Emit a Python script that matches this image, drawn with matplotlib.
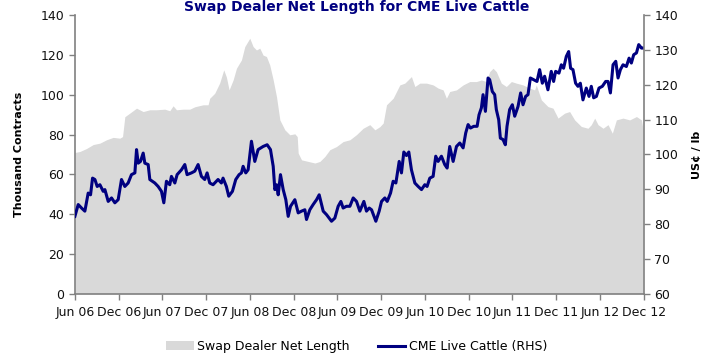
import numpy as np
import pandas as pd
import matplotlib
matplotlib.use("Agg")
import matplotlib.pyplot as plt
import matplotlib.dates as mdates
from matplotlib.patches import Patch
from matplotlib.lines import Line2D

# Swap dealer net length (thousand contracts), sampled dates as decimal years
swap_t = [2006.414, 2006.471, 2006.547, 2006.624, 2006.700, 2006.776, 2006.852, 2006.928,
          2006.959, 2006.985, 2007.042, 2007.119, 2007.195, 2007.271, 2007.347, 2007.442,
          2007.499, 2007.537, 2007.576, 2007.652, 2007.728, 2007.785, 2007.880, 2007.937,
          2007.956, 2008.013, 2008.070, 2008.116, 2008.146, 2008.177, 2008.223, 2008.261,
          2008.318, 2008.356, 2008.413, 2008.451, 2008.489, 2008.527, 2008.565, 2008.603,
          2008.641, 2008.680, 2008.718, 2008.756, 2008.813, 2008.870, 2008.927, 2008.954,
          2008.965, 2009.003, 2009.079, 2009.156, 2009.213, 2009.270, 2009.327, 2009.403,
          2009.479, 2009.556, 2009.632, 2009.708, 2009.784, 2009.842, 2009.899, 2009.937,
          2009.975, 2010.051, 2010.127, 2010.184, 2010.260, 2010.299, 2010.356, 2010.432,
          2010.508, 2010.565, 2010.622, 2010.660, 2010.698, 2010.775, 2010.851, 2010.927,
          2011.003, 2011.060, 2011.117, 2011.155, 2011.193, 2011.231, 2011.288, 2011.345,
          2011.403, 2011.460, 2011.536, 2011.612, 2011.669, 2011.688, 2011.745, 2011.821,
          2011.879, 2011.936, 2012.012, 2012.069, 2012.126, 2012.202, 2012.278, 2012.316,
          2012.355, 2012.393, 2012.450, 2012.507, 2012.556, 2012.602, 2012.678, 2012.754,
          2012.831, 2012.888, 2012.907]
swap_net = [71, 71.5, 73, 75, 75.7, 77.4, 78.6, 78.2,
            79, 89, 90.8, 93.3, 91.6, 92.5, 92.5, 92.8,
            92, 94.5, 92.5, 92.8, 92.8, 94, 95, 95,
            98.3, 100.8, 106, 112.6, 109, 102.5, 107.5, 113.4,
            117.6, 124.3, 128.5, 124.3, 122.6, 123.5, 120, 119.3,
            115, 107.5, 99, 87.4, 82.4, 79.9, 80.4, 79,
            70.7, 67.3, 66.5, 65.7, 66.5, 69, 72.4, 74,
            76.5, 77.4, 80, 83.2, 85, 82.4, 84, 85.8,
            95, 98.3, 105, 105.9, 109.2, 104.2, 105.9, 105.9,
            105, 103.4, 102.5, 98.3, 101.7, 102.5, 105, 106.7,
            106.7, 107.5, 106.7, 111.7, 113.4, 111.7, 105.9, 104.2,
            106.7, 105.9, 105, 103.4, 102.5, 105, 97.5, 94.1,
            93.3, 88.3, 90.8, 91.6, 87.4, 84.1, 83.2, 85,
            88.3, 85, 83.2, 85, 80.7, 87.4, 88.3, 87.4,
            89.1, 87.4, 82.4]

# CME live cattle price (US cents / lb)
cattle_t = [2006.414, 2006.452, 2006.490, 2006.528, 2006.566, 2006.593, 2006.616, 2006.643,
            2006.669, 2006.700, 2006.738, 2006.757, 2006.795, 2006.833, 2006.871, 2006.909,
            2006.947, 2006.985, 2007.023, 2007.061, 2007.100, 2007.119, 2007.138, 2007.164,
            2007.195, 2007.214, 2007.252, 2007.271, 2007.328, 2007.366, 2007.404, 2007.431,
            2007.461, 2007.499, 2007.518, 2007.557, 2007.583, 2007.633, 2007.671, 2007.697,
            2007.747, 2007.785, 2007.823, 2007.861, 2007.899, 2007.926, 2007.956, 2007.994,
            2008.051, 2008.089, 2008.108, 2008.146, 2008.173, 2008.215, 2008.253, 2008.291,
            2008.318, 2008.337, 2008.367, 2008.394, 2008.432, 2008.470, 2008.508, 2008.565,
            2008.611, 2008.649, 2008.680, 2008.699, 2008.718, 2008.737, 2008.763, 2008.794,
            2008.824, 2008.851, 2008.878, 2008.927, 2008.965, 2009.003, 2009.041, 2009.060,
            2009.098, 2009.136, 2009.175, 2009.205, 2009.251, 2009.289, 2009.346, 2009.384,
            2009.422, 2009.453, 2009.479, 2009.517, 2009.556, 2009.594, 2009.632, 2009.670,
            2009.716, 2009.746, 2009.777, 2009.804, 2009.853, 2009.891, 2009.918, 2009.956,
            2009.983, 2010.021, 2010.051, 2010.082, 2010.120, 2010.146, 2010.173, 2010.203,
            2010.230, 2010.260, 2010.299, 2010.337, 2010.375, 2010.413, 2010.439, 2010.470,
            2010.508, 2010.538, 2010.565, 2010.603, 2010.641, 2010.668, 2010.698, 2010.737,
            2010.775, 2010.813, 2010.851, 2010.881, 2010.908, 2010.935, 2010.973, 2011.011,
            2011.033, 2011.060, 2011.079, 2011.106, 2011.136, 2011.155, 2011.185, 2011.212,
            2011.231, 2011.258, 2011.277, 2011.307, 2011.334, 2011.353, 2011.383, 2011.414,
            2011.441, 2011.479, 2011.509, 2011.536, 2011.566, 2011.593, 2011.620, 2011.658,
            2011.696, 2011.726, 2011.757, 2011.783, 2011.821, 2011.859, 2011.886, 2011.909,
            2011.947, 2011.974, 2012.000, 2012.031, 2012.058, 2012.080, 2012.107, 2012.137,
            2012.164, 2012.191, 2012.221, 2012.259, 2012.290, 2012.316, 2012.343, 2012.374,
            2012.404, 2012.442, 2012.480, 2012.507, 2012.534, 2012.564, 2012.595, 2012.621,
            2012.648, 2012.678, 2012.716, 2012.747, 2012.773, 2012.800, 2012.831, 2012.857,
            2012.888, 2012.907]
cattle_px = [82.2, 85.6, 84.6, 83.7, 88.9, 88.4, 93.2, 92.8,
             90.8, 91.3, 89.4, 89.9, 86.5, 87.5, 86.1, 87,
             92.8, 90.8, 91.8, 94.2, 94.7, 101.4, 97.5, 98,
             100.4, 97.5, 97.1, 92.8, 91.8, 90.8, 89.4, 86.1,
             92.3, 91.3, 93.7, 91.8, 94.2, 95.6, 97.1, 94.2,
             94.7, 95.2, 97.1, 93.7, 92.8, 94.7, 91.8, 91.3,
             92.8, 91.8, 93.2, 90.8, 88, 89.4, 92.8, 94.2,
             94.7, 96.6, 94.7, 95.6, 103.8, 98, 101.4, 102.3,
             102.8, 101.4, 96.6, 89.9, 91.3, 88.4, 94.2, 89.9,
             87, 82.2, 85.1, 87, 83.2, 83.7, 84.1, 81.3,
             84.1, 85.6, 87, 88.4, 83.7, 82.7, 80.8, 81.7,
             85.1, 86.5, 84.6, 85.1, 85.1, 87.5, 86.5, 83.7,
             86.5, 83.7, 84.6, 84.1, 80.8, 83.7, 86.5, 87.5,
             86.5, 88.9, 92.3, 91.8, 98, 94.7, 100.7, 99.7,
             100.7, 95.6, 91.8, 90.8, 89.9, 91.3, 90.8, 93.2,
             93.7, 99.5, 98, 99.5, 97.1, 96.1, 102.3, 98,
             102.3, 103.3, 101.9, 106.2, 108.6, 107.6, 108.1, 108.1,
             111.4, 113.4, 117.2, 112.4, 122, 121.5, 118.1, 117.2,
             112.9, 110, 104.7, 104.3, 102.8, 108.1, 112.9, 114.3,
             111, 113.8, 117.7, 114.3, 116.7, 117.2, 122, 121.5,
             121, 124.4, 120.5, 122.5, 118.6, 123.9, 121, 123.9,
             123.4, 125.8, 124.8, 128.2, 129.6, 124.8, 124.4, 120.5,
             119.6, 120.5, 115.7, 119.1, 116.7, 119.6, 116.3, 116.7,
             119.1, 119.6, 121, 121, 117.7, 125.8, 126.8, 122,
             124.4, 125.8, 125.3, 127.7, 126.3, 128.7, 129.2, 131.6,
             130.6, 130.6]


def to_dates(years):
    out = []
    for y in years:
        yr = int(y)
        start = pd.Timestamp(yr, 1, 1)
        days = (pd.Timestamp(yr + 1, 1, 1) - start).days
        out.append(start + pd.Timedelta(days=(y - yr) * days))
    return pd.DatetimeIndex(out)


swap_dates = to_dates(swap_t)
cattle_dates = to_dates(cattle_t)

navy = "#000080"
grey_fill = "#d9d9d9"
axis_grey = "#808080"

fig = plt.figure(figsize=(7.13, 3.58), dpi=100)
ax = fig.add_axes([0.105, 0.180, 0.798, 0.777])
ax2 = ax.twinx()

ax.fill_between(swap_dates, swap_net, 0, color=grey_fill, linewidth=0)
ax2.plot(cattle_dates, cattle_px, color=navy, linewidth=2.2)

ax.set_xlim(pd.Timestamp(2006, 6, 1), pd.Timestamp(2012, 12, 1))
ax.set_ylim(0, 140)
ax2.set_ylim(60, 140)
ax.set_yticks(np.arange(0, 141, 20))
ax2.set_yticks(np.arange(60, 141, 10))

ax.xaxis.set_major_locator(mdates.MonthLocator(bymonth=[6, 12], bymonthday=1))
ax.xaxis.set_major_formatter(mdates.DateFormatter("%b %y"))

for a in (ax, ax2):
    a.spines["top"].set_visible(False)
    for s in ("left", "right", "bottom"):
        a.spines[s].set_color(axis_grey)
        a.spines[s].set_linewidth(1.2)
    a.tick_params(axis="both", colors=axis_grey, labelcolor="#111111",
                  labelsize=9, length=4, width=1.0, direction="out")
ax.spines["right"].set_visible(False)
ax2.spines["left"].set_visible(False)
ax2.spines["bottom"].set_visible(False)
ax.tick_params(axis="x", pad=5)

ax.set_ylabel("Thousand Contracts", fontsize=8, fontweight="bold", labelpad=12)
ax2.set_ylabel("US¢ / lb", fontsize=8, fontweight="bold", labelpad=10)

fig.text(0.5, 0.999, "Swap Dealer Net Length for CME Live Cattle", ha="center",
         va="top", fontsize=10, fontweight="bold", color=navy)

handles = [Patch(facecolor=grey_fill, edgecolor="none"),
           Line2D([0], [0], color=navy, linewidth=2.2)]
fig.legend(handles, ["Swap Dealer Net Length", "CME Live Cattle (RHS)"],
           loc="center", bbox_to_anchor=(0.5, 0.032), ncol=2, frameon=False,
           fontsize=9, handlelength=2.2, handletextpad=0.25, columnspacing=2.3)

fig.savefig("out.png", dpi=100)
